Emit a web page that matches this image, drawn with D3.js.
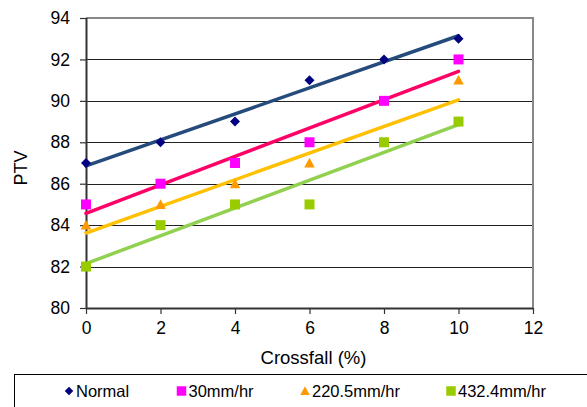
<!DOCTYPE html>
<html>
<head>
<meta charset="utf-8">
<script src="https://cdn.jsdelivr.net/npm/d3@7"></script>
<style>
  html, body { margin: 0; padding: 0; background: #fff; }
  svg { display: block; font-family: "Liberation Sans", Arial, sans-serif; }
</style>
</head>
<body>
<svg id="chart" width="587" height="407"></svg>
<script>
// ---- data ----
const crossfall = [0, 2, 4, 6, 8, 10];
const normal   = [87, 88, 89, 91, 92, 93];
const mm30     = [85, 86, 87, 88, 90, 92];
const mm220    = [84, 85, 86, 87, 88, 91];
const mm432    = [82, 84, 85, 85, 88, 89];
const seriesNames = ["Normal", "30mm/hr", "220.5mm/hr", "432.4mm/hr"];
const xTicks = [0, 2, 4, 6, 8, 10, 12];
const yTicks = [80, 82, 84, 86, 88, 90, 92, 94];

const series = [
  { name: seriesNames[0], values: normal, marker: "diamond",  mcol: "#000080", lcol: "#254A7C" },
  { name: seriesNames[1], values: mm30,   marker: "square",   mcol: "#FF00FF", lcol: "#FF0066" },
  { name: seriesNames[2], values: mm220,  marker: "triangle", mcol: "#FF9900", lcol: "#FFC000" },
  { name: seriesNames[3], values: mm432,  marker: "square",   mcol: "#99CC00", lcol: "#92D050" }
];

const svg = d3.select("#chart");
const L = 86, R = 533, T = 18, B = 308;
const x = d3.scaleLinear().domain([0, 12]).range([L, R]);
const y = d3.scaleLinear().domain([80, 94]).range([B, T]);

// gridlines
svg.append("g").selectAll("line").data(yTicks.filter(v => v > 80 && v < 94)).join("line")
  .attr("x1", L).attr("x2", R).attr("y1", d => Math.round(y(d)) + 0.5).attr("y2", d => Math.round(y(d)) + 0.5)
  .attr("stroke", "#222").attr("stroke-width", 1);

// plot border (top/right gray)
svg.append("line").attr("x1", L).attr("x2", R + 1).attr("y1", T).attr("y2", T)
  .attr("stroke", "#888").attr("stroke-width", 2);
svg.append("line").attr("x1", R).attr("x2", R).attr("y1", T).attr("y2", B)
  .attr("stroke", "#888").attr("stroke-width", 2);

// axes
const yAxis = d3.axisLeft(y).tickValues(yTicks).tickSize(6).tickPadding(10);
const xAxis = d3.axisBottom(x).tickValues(xTicks).tickSize(6).tickPadding(8);
const gy = svg.append("g").attr("transform", `translate(${L},0)`).call(yAxis);
const gx = svg.append("g").attr("transform", `translate(0,${B})`).call(xAxis);
[gy, gx].forEach(g => {
  g.select(".domain").attr("stroke", "#333").attr("stroke-width", 2);
  g.selectAll(".tick line").attr("stroke", "#333").attr("stroke-width", 1.2);
  g.selectAll("text").attr("fill", "#000").style("font-size", "17.5px")
    .style("font-family", '"Liberation Sans", Arial, sans-serif');
});
gx.select(".domain").attr("d", `M${L},0.5H${R}`);
gx.selectAll(".tick line").attr("y1", 0);
gy.select(".domain").attr("d", `M0.5,${T}V${B}`);

// axis titles
svg.append("text").attr("transform", `translate(27,168) rotate(-90)`)
  .attr("text-anchor", "middle").style("font-size", "18px").text("PTV");
svg.append("text").attr("x", 313.5).attr("y", 364)
  .attr("text-anchor", "middle").style("font-size", "18.5px").text("Crossfall (%)");

// trendlines (least squares)
function fit(vals) {
  const n = crossfall.length;
  const mx = d3.mean(crossfall), my = d3.mean(vals);
  let sxy = 0, sxx = 0;
  for (let i = 0; i < n; i++) { sxy += (crossfall[i] - mx) * (vals[i] - my); sxx += (crossfall[i] - mx) ** 2; }
  const b = sxy / sxx, a = my - b * mx;
  return xv => a + b * xv;
}
const x0 = d3.min(crossfall), x1 = d3.max(crossfall);
series.forEach(s => {
  const f = fit(s.values);
  svg.append("line")
    .attr("x1", x(x0)).attr("y1", y(f(x0)))
    .attr("x2", x(x1)).attr("y2", y(f(x1)))
    .attr("stroke", s.lcol).attr("stroke-width", 3.5).attr("stroke-linecap", "round");
});

// markers
function markerPath(type, size) {
  const h = size / 2;
  if (type === "diamond") return `M0,${-h}L${h},0L0,${h}L${-h},0Z`;
  if (type === "square") return `M${-h},${-h}H${h}V${h}H${-h}Z`;
  if (type === "triangle") return `M0,${-h}L${h},${h * 0.85}L${-h},${h * 0.85}Z`;
}
const msize = { diamond: 10, square: 10, triangle: 10.5 };
series.forEach(s => {
  svg.append("g").selectAll("path").data(s.values).join("path")
    .attr("transform", (d, i) => `translate(${x(crossfall[i])},${y(d)})`)
    .attr("d", markerPath(s.marker, msize[s.marker]))
    .attr("fill", s.mcol);
});

// legend
svg.append("rect").attr("x", 14.5).attr("y", 374.5).attr("width", 600).attr("height", 60)
  .attr("fill", "#fff").attr("stroke", "#000").attr("stroke-width", 1);
const legX = [69, 181.5, 305, 451];
const lsize = { diamond: 8.5, square: 9.5, triangle: 9.5 };
series.forEach((s, i) => {
  svg.append("path").attr("transform", `translate(${legX[i]},391)`)
    .attr("d", markerPath(s.marker, lsize[s.marker])).attr("fill", s.mcol);
  svg.append("text").attr("x", legX[i] + 7).attr("y", 397)
    .style("font-size", "16.5px").text(s.name);
});
</script>
</body>
</html>
